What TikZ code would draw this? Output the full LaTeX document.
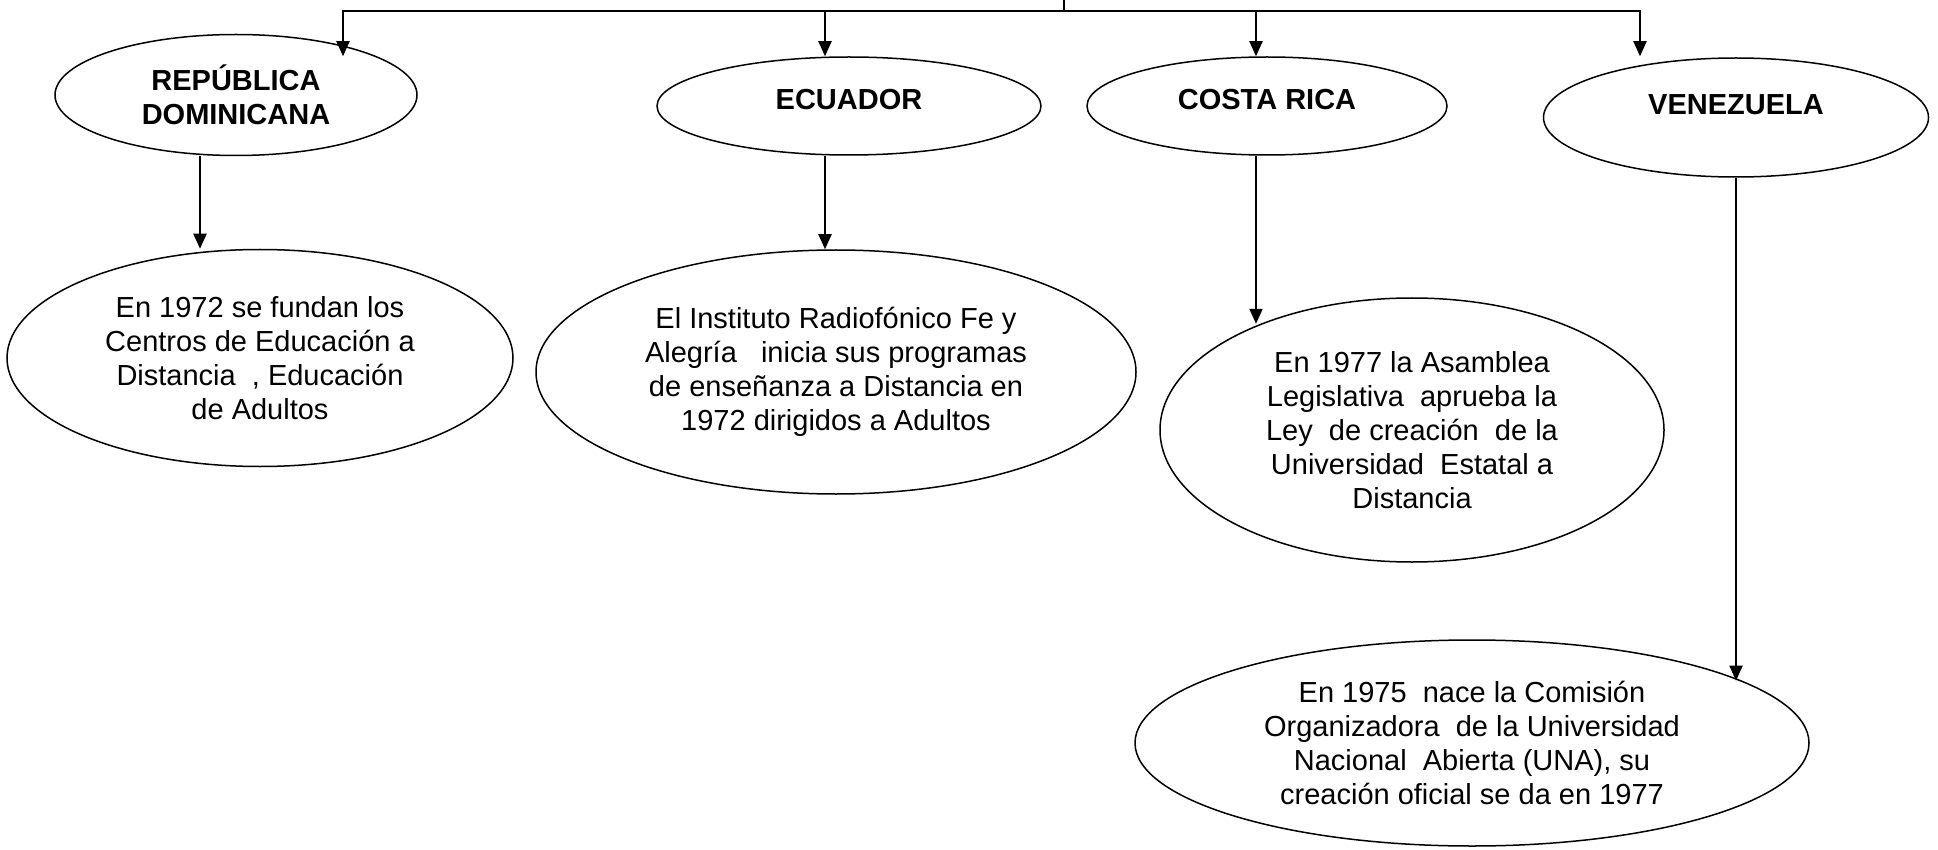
\documentclass[tikz,border=0pt]{standalone}
\usepackage{fontspec}
\setmainfont{Liberation Sans}
\usetikzlibrary{shapes.geometric,arrows.meta}

\begin{document}
\begin{tikzpicture}[x=1pt, y=-1pt,
  font=\fontsize{29}{34}\selectfont,
  oval/.style={draw, ellipse, line width=1.5pt, inner sep=0pt, align=center},
  oval_head/.style={oval, font=\fontsize{29}{34}\selectfont\bfseries},
  link/.style={line width=2pt, -{Triangle[length=15pt,width=13pt]}}]

\useasboundingbox (0,0) rectangle (1938,850);

\node[oval_head, minimum width=362pt, minimum height=121pt] (rd) at (236,95) {REPÚBLICA\\DOMINICANA};
\node[oval_head, minimum width=384pt, minimum height=98pt, text height=21pt, text depth=13pt] (ec) at (849,106) {ECUADOR};
\node[oval_head, minimum width=360pt, minimum height=98pt, text height=21pt, text depth=13pt] (cr) at (1267,106) {COSTA RICA};
\node[oval_head, minimum width=385pt, minimum height=119pt, text height=21pt, text depth=26pt] (ve) at (1736,117.5) {VENEZUELA};

\node[oval, minimum width=506pt, minimum height=217pt] (rd_low) at (260,358) {En 1972 se fundan los\\Centros de Educación a\\Distancia\ \ , Educación\\de Adultos};
\node[oval, minimum width=600pt, minimum height=244pt] (ec_low) at (836,372) {El Instituto Radiofónico Fe y\\Alegría\ \ \ inicia sus programas\\de enseñanza a Distancia en\\1972 dirigidos a Adultos};
\node[oval, minimum width=504pt, minimum height=264pt] (cr_low) at (1412,430) {En 1977 la Asamblea\\Legislativa\ \ aprueba la\\Ley\ \ de creación\ \ de la\\Universidad\ \ Estatal a\\Distancia};
\node[oval, minimum width=674pt, minimum height=206pt] (ve_low) at (1472,743) {En 1975\ \ nace la Comisión\\Organizadora\ \ de la Universidad\\Nacional\ \ Abierta (UNA), su\\creación oficial se da en 1977};

\coordinate (top) at (1064,0);
\coordinate (hub) at (1064,11);
\coordinate (b_rd) at (343,11);
\coordinate (b_ec) at (825,11);
\coordinate (b_cr) at (1256,11);
\coordinate (b_ve) at (1640,11);

\draw[line width=2pt] (top) -- (hub);
\draw[line width=2pt, line cap=rect] (b_rd) -- (b_ve);
\draw[link] (b_rd) -- (b_rd |- ec.north);
\draw[link] (b_ec) -- (b_ec |- ec.north);
\draw[link] (b_cr) -- (b_cr |- cr.north);
\draw[link] (b_ve) -- (b_ve |- ec.north);

\draw[link] ([xshift=-36pt]rd.south) -- ([xshift=-60pt]rd_low.north);
\draw[link] ([xshift=-24pt]ec.south) -- ([xshift=-11pt]ec_low.north);
\draw[link] ([xshift=-11pt]cr.south) -- ([xshift=-11pt]cr.south |- cr_low.145);
\draw[link] (ve.south) -- (ve.south |- ve_low.13);

\end{tikzpicture}
\end{document}
